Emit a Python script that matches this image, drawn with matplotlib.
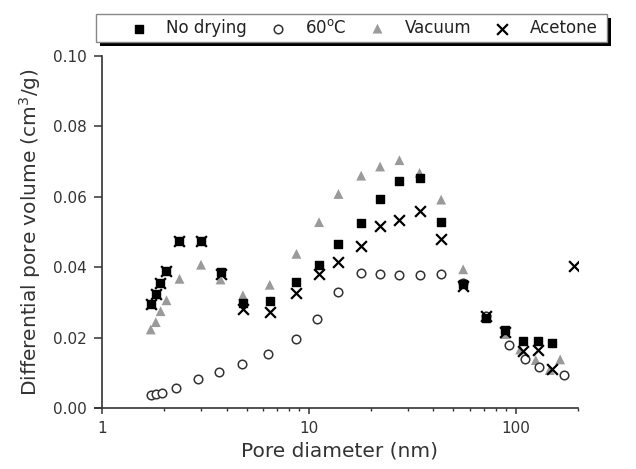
import matplotlib
matplotlib.use("Agg")
import matplotlib.pyplot as plt
from matplotlib.patches import Rectangle
from matplotlib.ticker import LogLocator, NullFormatter, FixedLocator

plt.rcParams['font.family'] = ['DejaVu Sans']

# No drying
nd_x = [1.72, 1.82, 1.90, 2.04, 2.35, 3.01, 3.74, 4.80, 6.47, 8.71, 11.2, 13.9, 17.9,
        22.1, 27.4, 34.3, 43.6, 55.7, 71.5, 88.7, 108, 128, 150]
nd_y = [0.0295, 0.0325, 0.0355, 0.0389, 0.0474, 0.0474, 0.0385, 0.0297, 0.0304, 0.0358,
        0.0405, 0.0465, 0.0525, 0.0593, 0.0646, 0.0654, 0.0528, 0.0351, 0.0255, 0.0222,
        0.0191, 0.0191, 0.0185]

# 60 C
c60_x = [1.72, 1.82, 1.96, 2.29, 2.90, 3.67, 4.73, 6.37, 8.71, 10.9, 13.9, 17.9, 22.1,
         27.4, 34.3, 43.6, 55.7, 71.5, 93, 111, 129, 171]
c60_y = [0.0037, 0.0040, 0.0042, 0.0056, 0.0082, 0.0103, 0.0124, 0.0153, 0.0195, 0.0252,
         0.0330, 0.0384, 0.0380, 0.0377, 0.0377, 0.0380, 0.0356, 0.0262, 0.0178, 0.0138,
         0.0117, 0.0093]

# Vacuum
vac_x = [1.72, 1.82, 1.92, 2.05, 2.37, 3.01, 3.74, 4.80, 6.47, 8.71, 11.2, 13.9, 17.9,
         22.1, 27.4, 34.3, 43.6, 55.7, 71.5, 88.7, 105, 125, 146, 164]
vac_y = [0.0223, 0.0244, 0.0275, 0.0306, 0.0367, 0.0407, 0.0365, 0.0320, 0.0350, 0.0438,
         0.0528, 0.0608, 0.0660, 0.0686, 0.0704, 0.0668, 0.0592, 0.0394, 0.0262, 0.0210,
         0.0166, 0.0136, 0.0108, 0.0138]

# Acetone
ac_x = [1.72, 1.82, 1.90, 2.04, 2.35, 3.01, 3.74, 4.80, 6.47, 8.71, 11.2, 13.9, 17.9,
        22.1, 27.4, 34.3, 43.6, 55.7, 71.5, 88.7, 108, 128, 150, 192]
ac_y = [0.0295, 0.0325, 0.0355, 0.0389, 0.0474, 0.0474, 0.0380, 0.0282, 0.0273, 0.0328,
        0.0380, 0.0415, 0.0460, 0.0516, 0.0533, 0.0559, 0.0481, 0.0346, 0.0260, 0.0216,
        0.0161, 0.0164, 0.0110, 0.0403]

W, H = 636, 469
fig = plt.figure(figsize=(W/100, H/100), dpi=100)
ax = fig.add_axes([102/W, 1-408/H, (578-102)/W, (408-56)/H])

ax.scatter(vac_x, vac_y, marker='^', s=50, color='#9a9a9a', edgecolors='none', label='Vacuum', zorder=2)
ax.scatter(c60_x, c60_y, marker='o', s=38, facecolors='white', edgecolors='#333333', linewidths=1.1, label='60$^{\\mathrm{o}}$C', zorder=3)
ax.scatter(nd_x, nd_y, marker='s', s=34, color='black', label='No drying', zorder=4)
ax.scatter(ac_x, ac_y, marker='x', s=60, color='black', linewidths=1.6, label='Acetone', zorder=5)

ax.set_xscale('log')
ax.set_xlim(1, 200)
ax.set_ylim(0, 0.10)
ax.set_yticks([0.00, 0.02, 0.04, 0.06, 0.08, 0.10])
ax.set_yticklabels(['0.00', '0.02', '0.04', '0.06', '0.08', '0.10'])
ax.xaxis.set_major_locator(FixedLocator([1, 10, 100]))
ax.set_xticklabels(['1', '10', '100'])
ax.xaxis.set_minor_locator(LogLocator(base=10, subs=range(2, 10), numticks=20))
ax.xaxis.set_minor_formatter(NullFormatter())

for s in ['top', 'right']:
    ax.spines[s].set_visible(False)
for s in ['left', 'bottom']:
    ax.spines[s].set_color('#333333')
    ax.spines[s].set_linewidth(1.2)
ax.spines['bottom'].set_bounds(0.93, 200)

ax.tick_params(axis='y', which='major', direction='out', length=6, width=1.1,
               colors='#333333', labelsize=11, labelcolor='#333333', pad=5)
ax.tick_params(axis='x', which='major', direction='out', length=4.5, width=1.1,
               colors='#333333', labelsize=11, labelcolor='#333333', pad=5)
ax.tick_params(axis='x', which='minor', direction='out', length=2.5, width=1.0, colors='#333333')

ax.set_xlabel('Pore diameter (nm)', fontsize=14.5, color='#333333', labelpad=4)
ax.set_ylabel('Differential pore volume (cm$^3$/g)', fontsize=14.5, color='#333333', labelpad=7)

# legend frame with hard black shadow
x0, y0, x1, y1 = 96, 14, 607, 42
shadow = Rectangle(((x0 + 4) / W, 1 - (y1 + 4) / H), (x1 - x0) / W, (y1 - y0) / H,
                   transform=fig.transFigure, facecolor='black', edgecolor='none', zorder=0)
frame = Rectangle((x0 / W, 1 - y1 / H), (x1 - x0) / W, (y1 - y0) / H,
                  transform=fig.transFigure, facecolor='white', edgecolor='#888888',
                  linewidth=1.0, zorder=1)
fig.patches.append(shadow)
fig.patches.append(frame)

handles, labels = ax.get_legend_handles_labels()
order = [2, 1, 0, 3]
leg = fig.legend([handles[i] for i in order], [labels[i] for i in order],
                 loc='center left', bbox_to_anchor=(126/W, 1 - 28/H),
                 ncol=4, frameon=False, fontsize=12, handlelength=1.5,
                 handletextpad=0.9, columnspacing=1.1, borderpad=0, borderaxespad=0)
leg.set_zorder(5)
for t in leg.get_texts():
    t.set_color('#222222')

fig.savefig('out.png', dpi=100)
